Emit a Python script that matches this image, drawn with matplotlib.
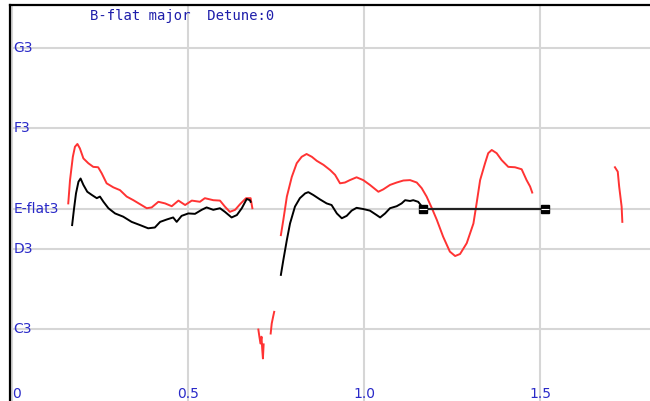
"""
Pitch trace: B-flat major, detune 0
"""
import matplotlib
matplotlib.use('Agg')
from matplotlib import pyplot as plt
from matplotlib import transforms

# note grid (midi numbers) and labels
note_values = [55, 53, 51, 50, 48]
note_labels = ['G3', 'F3', 'E-flat3', 'D3', 'C3']
time_ticks = [0.0, 0.5, 1.0, 1.5]
time_labels = ['0', '0.5', '1.0', '1.5']

# red trace, five pieces (time in s, pitch in midi)
red1_t = [0.159, 0.164, 0.172, 0.178, 0.185, 0.192, 0.202, 0.216, 0.230, 0.244, 0.254, 0.268,
          0.287, 0.306, 0.325, 0.344, 0.363, 0.382, 0.396, 0.415, 0.434, 0.453, 0.472, 0.491,
          0.510, 0.533, 0.547, 0.571, 0.590, 0.604, 0.618, 0.633, 0.647, 0.664, 0.677, 0.682]
red1_p = [51.13, 51.71, 52.29, 52.54, 52.61, 52.50, 52.25, 52.13, 52.04, 52.03, 51.88, 51.63,
          51.53, 51.46, 51.30, 51.21, 51.11, 51.01, 51.03, 51.17, 51.13, 51.06, 51.20, 51.09,
          51.20, 51.17, 51.26, 51.21, 51.20, 51.05, 50.92, 50.97, 51.11, 51.26, 51.26, 51.01]

red2_t = [0.763, 0.770, 0.780, 0.794, 0.808, 0.822, 0.836, 0.851, 0.865, 0.884, 0.903, 0.917,
          0.931, 0.945, 0.959, 0.978, 0.997, 1.016, 1.040, 1.054, 1.073, 1.092, 1.111, 1.130,
          1.149, 1.163, 1.177, 1.192, 1.206, 1.224, 1.243, 1.258, 1.272, 1.291, 1.310, 1.319,
          1.329, 1.343, 1.352, 1.362, 1.376, 1.390, 1.409, 1.428, 1.447, 1.461, 1.471, 1.477]
red2_p = [50.34, 50.72, 51.30, 51.79, 52.13, 52.29, 52.36, 52.29, 52.19, 52.09, 51.96, 51.84,
          51.63, 51.65, 51.71, 51.78, 51.71, 51.59, 51.42, 51.48, 51.59, 51.65, 51.70, 51.71,
          51.65, 51.51, 51.30, 51.01, 50.72, 50.30, 49.93, 49.82, 49.87, 50.14, 50.63, 51.13,
          51.71, 52.13, 52.38, 52.46, 52.38, 52.21, 52.04, 52.03, 51.98, 51.71, 51.55, 51.40]

red3_t = [0.699, 0.702, 0.705, 0.708, 0.710, 0.712, 0.714]
red3_p = [47.99, 47.81, 47.64, 47.81, 47.50, 47.27, 47.62]

red4_t = [0.734, 0.737, 0.741, 0.744]
red4_p = [47.89, 48.14, 48.31, 48.43]

red5_t = [1.712, 1.720, 1.724, 1.731, 1.733]
red5_p = [52.03, 51.92, 51.55, 51.05, 50.67]

# black trace, two pieces
black1_t = [0.170, 0.175, 0.181, 0.188, 0.194, 0.202, 0.213, 0.226, 0.240, 0.249, 0.259, 0.273,
            0.292, 0.315, 0.339, 0.363, 0.386, 0.405, 0.420, 0.439, 0.457, 0.467, 0.481, 0.500,
            0.519, 0.538, 0.552, 0.571, 0.590, 0.604, 0.623, 0.638, 0.652, 0.666, 0.675, 0.677]
black1_p = [50.59, 50.97, 51.38, 51.67, 51.75, 51.59, 51.42, 51.34, 51.26, 51.30, 51.17, 51.01,
            50.88, 50.80, 50.67, 50.59, 50.51, 50.53, 50.67, 50.73, 50.78, 50.67, 50.82, 50.88,
            50.87, 50.97, 51.03, 50.97, 51.01, 50.92, 50.78, 50.84, 51.01, 51.24, 51.21, 51.17]

black2_t = [0.763, 0.770, 0.780, 0.789, 0.803, 0.817, 0.832, 0.841, 0.855, 0.874, 0.893, 0.907,
            0.922, 0.936, 0.950, 0.964, 0.978, 0.997, 1.016, 1.035, 1.045, 1.059, 1.073, 1.092,
            1.106, 1.116, 1.130, 1.139, 1.153, 1.163]
black2_p = [49.35, 49.72, 50.22, 50.63, 51.05, 51.26, 51.38, 51.41, 51.34, 51.23, 51.13, 51.09,
            50.88, 50.76, 50.82, 50.95, 51.02, 50.99, 50.95, 50.84, 50.78, 50.88, 51.01, 51.06,
            51.13, 51.21, 51.19, 51.21, 51.17, 51.06]

# target note bar
target_t = [1.167, 1.514]
target_p = [51, 51]

title_text = 'B-flat major  Detune:0'

label_blue = '#2a2ac8'
red = '#ff3333'

fig = plt.figure(figsize=(6.5, 4.01), dpi=100)
ax = fig.add_axes([10 / 650, 0, 640 / 650, 396 / 401])
ax.set_xlim(-0.0065, 1.8116)
ax.set_ylim(46.21, 56.07)

for side in ['right', 'bottom']:
    ax.spines[side].set_visible(False)
ax.spines['left'].set_linewidth(1.6)
ax.spines['top'].set_linewidth(1.6)

ax.set_xticks(time_ticks)
ax.set_yticks(note_values)
ax.tick_params(length=0, labelleft=False, labelbottom=False)
ax.grid(True, color='#d6d6d6', linewidth=1.5)
ax.set_axisbelow(True)

for t, p in [(red1_t, red1_p), (red2_t, red2_p), (red3_t, red3_p), (red4_t, red4_p), (red5_t, red5_p)]:
    ax.plot(t, p, color=red, linewidth=1.4)
for t, p in [(black1_t, black1_p), (black2_t, black2_p)]:
    ax.plot(t, p, color='black', linewidth=1.4)

ax.plot(target_t, target_p, color='#222222', linewidth=1.6)
ax.plot(target_t, target_p, linestyle='none', marker='s', markersize=6, color='black')
ax.plot(target_t, target_p, linestyle='none', marker='_', markersize=6, color='white', markeredgewidth=0.8)

ytrans = transforms.blended_transform_factory(ax.transAxes, ax.transData)
for v, lab in zip(note_values, note_labels):
    ax.text(0.005, v, lab, transform=ytrans, color=label_blue, fontsize=10, va='center', ha='left')

xtrans = transforms.blended_transform_factory(ax.transData, ax.transAxes)
for v, lab in zip(time_ticks, time_labels):
    ax.text(v, 0.018, lab, transform=xtrans, color=label_blue, fontsize=10, va='center',
            ha='left' if v == 0 else 'center')

fig.text(90 / 650, 1 - 16 / 401, title_text, family='DejaVu Sans Mono', fontsize=10,
         color='#1e1eaa', va='center', ha='left')

plt.savefig('out.png', dpi=100)
